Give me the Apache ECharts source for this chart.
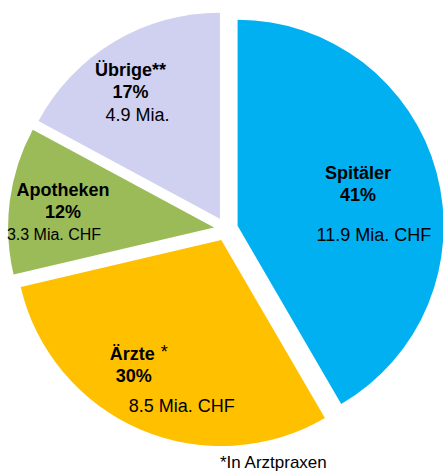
<!DOCTYPE html>
<html>
<head>
<meta charset="utf-8">
<style>
  html, body { margin: 0; padding: 0; background: #fff; }
  #chart { width: 443px; height: 472px; }
</style>
<script src="https://cdn.jsdelivr.net/npm/echarts@6/dist/echarts.min.js"></script>
</head>
<body>
<div id="chart"></div>
<script>
var names = ['Spitäler', 'Ärzte', 'Apotheken', 'Übrige'];
var marks = ['', '*', '', '**'];
var percents = ['41%', '30%', '12%', '17%'];
var amounts = [11.9, 8.5, 3.3, 4.9];
var amountTexts = ['11.9 Mia. CHF', '8.5 Mia. CHF', '3.3 Mia. CHF', '4.9 Mia.'];
var colors = ['#00b0f0', '#ffc000', '#9bbb59', '#d0d0f0'];

// label tweaks, tuned by eye: shift from the default inside spot, extra gap, per-line padding
var labelShift = [[18, 5.5], [-40.5, 42.4], [-46, -1], [-35, -35]];
var gapLines = [18, 8, 0, 1];
var pctPad = [[0, 0], [0, 10], [0, 0], [0, 0]];
var amtPad = [[32, 0], [86, 0], [0, 18], [14, 0]];
var amtSize = [18, 18, 16, 18];

var font = '"Liberation Sans", Arial, sans-serif';

var chart = echarts.init(document.getElementById('chart'), null, { renderer: 'svg' });

var data = names.map(function(n, i) {
  var txt = '{n|' + n + '}' + (marks[i] === '*' ? '{s|*}' : marks[i] === '**' ? '{b|**}' : '') +
    '\n{p' + i + '|' + percents[i] + '}' +
    (gapLines[i] ? '\n{g' + i + '| }' : '') +
    '\n{v' + i + '|' + amountTexts[i] + '}';
  var dx = labelShift[i][0], dy = labelShift[i][1];
  var pad = [Math.max(dy, 0) * 2, Math.max(-dx, 0) * 2, Math.max(-dy, 0) * 2, Math.max(dx, 0) * 2];
  return {
    name: n,
    value: amounts[i],
    selected: true,
    itemStyle: { color: colors[i] },
    label: { formatter: txt, padding: pad }
  };
});

var rich = {
  n: { fontFamily: font, fontSize: 18, fontWeight: 'bold', color: '#000', lineHeight: 22 },
  b: { fontFamily: font, fontSize: 18, fontWeight: 'bold', color: '#000', lineHeight: 22 },
  s: { fontFamily: font, fontSize: 18, color: '#000', lineHeight: 22, verticalAlign: 'top', padding: [0, 0, 6, 6] }
};
for (var i = 0; i < names.length; i++) {
  rich['p' + i] = { fontFamily: font, fontSize: 18, fontWeight: 'bold', color: '#000', lineHeight: 22,
    padding: [0, pctPad[i][1], 0, pctPad[i][0]] };
  rich['g' + i] = { fontSize: 4, lineHeight: gapLines[i] };
  rich['v' + i] = { fontFamily: font, fontSize: amtSize[i], color: '#000', lineHeight: 22,
    padding: [0, amtPad[i][1], 0, amtPad[i][0]] };
}

chart.setOption({
  animation: false,
  series: [{
    type: 'pie',
    center: [226, 229],
    radius: 206,
    startAngle: 90,
    clockwise: true,
    selectedMode: 'multiple',
    selectedOffset: 12,
    avoidLabelOverlap: false,
    emphasis: { disabled: true },
    label: { show: true, position: 'inside', align: 'center', verticalAlign: 'middle', rich: rich },
    labelLine: { show: false },
    data: data
  }],
  graphic: [{
    type: 'text',
    left: 220,
    top: 454,
    style: { text: '*In Arztpraxen', fontFamily: font, fontSize: 17, fill: '#000' }
  }]
});
window.addEventListener('resize', function() { chart.resize(); });
</script>
</body>
</html>
